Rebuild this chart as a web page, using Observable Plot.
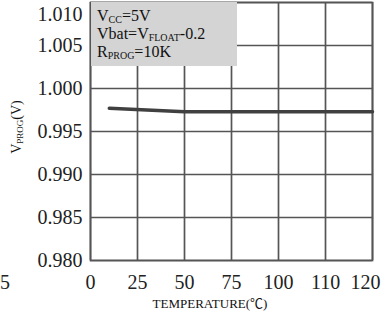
<!DOCTYPE html>
<html><head><meta charset="utf-8">
<script src="https://cdn.jsdelivr.net/npm/d3@7"></script>
<script src="https://cdn.jsdelivr.net/npm/@observablehq/plot@0.6"></script>
<style>
body{margin:0;background:#fff;}
#chart{width:382px;height:317px;overflow:hidden;}
#chart svg text{font-family:'Liberation Serif','Times New Roman','Noto Sans CJK SC',serif;}
</style></head>
<body><div id="chart"></div>
<script>
const tempTicks = [0, 25, 50, 75, 100, 110, 120];
const tempLabels = ["0", "25", "50", "75", "100", "110", "120"];
const vTicks = [0.980, 0.985, 0.990, 0.995, 1.000, 1.005, 1.010];
const seriesTemp = [10, 50, 120];
const seriesV = [0.9977, 0.9973, 0.9973];
const legendLines = [["V", "CC", "=5V"], ["Vbat=V", "FLOAT", "-0.2"], ["R", "PROG", "=10K"]];

const W = 382, H = 317, mL = 90, mR = 10, mT = 2, mB = 57;
const xRange = tempTicks.map((d, i) => mL + i * (W - mL - mR) / (tempTicks.length - 1));
const data = seriesTemp.map((t, i) => ({t, v: seriesV[i]}));
const fmt = d => d.toFixed(3);
const lab = d => tempLabels[tempTicks.indexOf(d)];

const plot = Plot.plot({
  width: W, height: H, marginLeft: mL, marginRight: mR, marginTop: mT, marginBottom: mB,
  style: {background: "#fff", color: "#222"},
  x: {type: "linear", domain: tempTicks, range: xRange},
  y: {domain: [0.980, 1.010]},
  marks: [
    Plot.ruleX(tempTicks, {x: d => d, stroke: "#555", strokeWidth: 1.7}),
    Plot.ruleY(vTicks, {y: d => d, stroke: "#555", strokeWidth: 1.7}),
    Plot.frame({stroke: "#555", strokeWidth: 1.7}),
    Plot.axisX(tempTicks.slice(0, -1), {tickSize: 0, tickPadding: 14, fontSize: 20, label: null, tickFormat: lab}),
    Plot.axisX(tempTicks.slice(-1), {tickSize: 0, tickPadding: 14, fontSize: 20, label: null, tickFormat: lab, dx: -7}),
    Plot.axisY(vTicks.slice(0, -1), {tickSize: 0, tickPadding: 8, fontSize: 20, label: null, tickFormat: fmt}),
    Plot.axisY(vTicks.slice(-1), {tickSize: 0, tickPadding: 8, fontSize: 20, label: null, tickFormat: fmt, dy: 12}),
    Plot.line(data, {x: "t", y: "v", stroke: "#404040", strokeWidth: 3.5})
  ]
});
document.getElementById("chart").appendChild(plot);

const svg = d3.select(plot);
// legend box
const lg = svg.append("g").attr("text-anchor", "start");
lg.append("rect").attr("x", mL + 1).attr("y", mT).attr("width", 146).attr("height", 64).attr("fill", "#d4d4d4");
legendLines.forEach((parts, i) => {
  const t = lg.append("text").attr("x", 97).attr("y", 21 + i * 18.2)
    .attr("font-size", 16).attr("fill", "#111");
  t.append("tspan").text(parts[0]);
  t.append("tspan").attr("font-size", 10).attr("dy", 2).text(parts[1]);
  t.append("tspan").attr("dy", -2).text(parts[2]);
});
// cut-off tick label at the far left
svg.append("text").attr("x", 10).attr("y", 289).attr("text-anchor", "end")
  .attr("font-size", 20).attr("fill", "#222").text("5");
// x title
svg.append("text").attr("x", 210).attr("y", 308).attr("text-anchor", "middle")
  .attr("font-size", 13).attr("fill", "#111").text("TEMPERATURE(℃)");
// y title
const yt = svg.append("text").attr("transform", "translate(21,127) rotate(-90)").attr("text-anchor", "middle")
  .attr("font-size", 14).attr("fill", "#111");
yt.append("tspan").text("V");
yt.append("tspan").attr("font-size", 9).attr("dy", 2).text("PROG");
yt.append("tspan").attr("dy", -2).text("(V)");
</script>
</body></html>
